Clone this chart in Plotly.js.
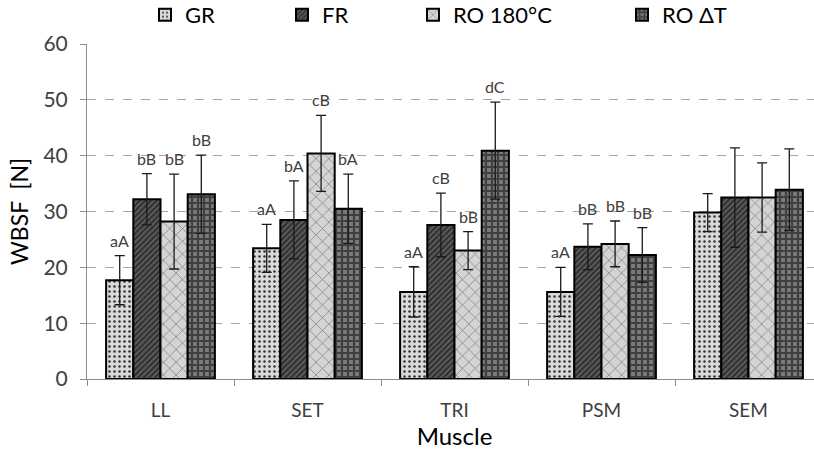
<!DOCTYPE html>
<html>
<head>
<meta charset="utf-8">
<script src="https://cdn.plot.ly/plotly-3.0.1.min.js"></script>
<style>html,body{margin:0;padding:0;overflow:hidden;background:#fff;}</style>
</head>
<body>
<div id="chart" style="width:822px;height:452px;"></div>
<script>
const categories = ["LL", "SET", "TRI", "PSM", "SEM"];
const seriesNames = ["GR", "FR", "RO 180°C", "RO ΔT"];

const grValues = [17.7, 23.4, 15.6, 15.6, 29.8];
const grErrors = [4.4, 4.3, 4.5, 4.4, 3.4];
const grLetters = ["aA", "aA", "aA", "aA", ""];

const frValues = [32.2, 28.5, 27.6, 23.7, 32.5];
const frErrors = [4.6, 7.0, 5.7, 4.1, 8.9];
const frLetters = ["bB", "bA", "cB", "bB", ""];

const ro180Values = [28.2, 40.4, 23.0, 24.2, 32.5];
const ro180Errors = [8.5, 6.8, 3.4, 4.1, 6.2];
const ro180Letters = ["bB", "cB", "bB", "bB", ""];

const roDtValues = [33.1, 30.5, 40.9, 22.2, 33.9];
const roDtErrors = [7.0, 6.2, 8.7, 4.9, 7.3];
const roDtLetters = ["bB", "bA", "dC", "bB", ""];

const yTicks = [0, 10, 20, 30, 40, 50, 60];

const FONT = "Lato, 'Open Sans', sans-serif";
const BARGAP = 0.26;

const patterns = [
  {shape: ".", bgcolor: "#d9d9d9", fgcolor: "#333333", size: 5, solidity: 0.2},
  {shape: "/", bgcolor: "#5a5a5a", fgcolor: "#2a2a2a", size: 4, solidity: 0.45},
  {shape: "x", bgcolor: "#d4d4d4", fgcolor: "#7a7a7a", size: 9, solidity: 0.15},
  {shape: "+", bgcolor: "#7a7a7a", fgcolor: "#404040", size: 6, solidity: 0.6}
];
const allValues = [grValues, frValues, ro180Values, roDtValues];
const allErrors = [grErrors, frErrors, ro180Errors, roDtErrors];
const allLetters = [grLetters, frLetters, ro180Letters, roDtLetters];

const traces = seriesNames.map((name, k) => ({
  type: "bar",
  name: name,
  x: categories,
  y: allValues[k],
  legend: k === 0 ? "legend" : "legend" + (k + 1),
  marker: {
    color: patterns[k].bgcolor,
    pattern: {shape: patterns[k].shape, bgcolor: patterns[k].bgcolor, fgcolor: patterns[k].fgcolor,
              size: patterns[k].size, solidity: patterns[k].solidity, fillmode: "replace"},
    line: {color: "#000000", width: 2}
  },
  error_y: {type: "data", array: allErrors[k], visible: true, color: "#1a1a1a", thickness: 1.3, width: 5}
}));

const annotations = [];
const slot = (1 - BARGAP) / seriesNames.length;
seriesNames.forEach((name, k) => {
  categories.forEach((c, i) => {
    const t = allLetters[k][i];
    if (!t) return;
    annotations.push({
      xref: "x", yref: "y",
      x: i + (k - (seriesNames.length - 1) / 2) * slot,
      y: allValues[k][i] + allErrors[k][i],
      text: t, showarrow: false, yanchor: "bottom", yshift: 4,
      font: {family: FONT, size: 16, color: "#404040"}
    });
  });
});

const legendX = [0.0789, 0.2653, 0.4435, 0.7279];
const legendBase = {orientation: "h", y: 1.087, yanchor: "middle", xanchor: "left",
  font: {family: FONT, size: 22, color: "#000"}, bgcolor: "rgba(0,0,0,0)", itemwidth: 30};

const layout = {
  width: 822, height: 452,
  margin: {l: 87, r: 0, t: 44, b: 73, autoexpand: false},
  paper_bgcolor: "#ffffff", plot_bgcolor: "#ffffff",
  barmode: "group", bargap: BARGAP, bargroupgap: 0,
  font: {family: FONT, color: "#404040"},
  showlegend: true,
  legend: Object.assign({}, legendBase, {x: legendX[0]}),
  legend2: Object.assign({}, legendBase, {x: legendX[1]}),
  legend3: Object.assign({}, legendBase, {x: legendX[2]}),
  legend4: Object.assign({}, legendBase, {x: legendX[3]}),
  xaxis: {
    type: "category",
    showline: true, linecolor: "#8c8c8c", linewidth: 1,
    ticks: "outside", tickson: "boundaries", ticklen: 6, tickcolor: "#8c8c8c",
    ticklabelstandoff: 14,
    tickfont: {family: FONT, size: 19, color: "#404040"},
    title: {text: "Muscle", font: {family: FONT, size: 24, color: "#000"}, standoff: 4},
    showgrid: false, zeroline: false
  },
  yaxis: {
    range: [0, 60], tickvals: yTicks, ticktext: yTicks.map(String),
    showline: true, linecolor: "#8c8c8c", linewidth: 1,
    ticks: "outside", ticklen: 6, tickcolor: "#8c8c8c",
    ticklabelstandoff: 8,
    tickfont: {family: FONT, size: 21, color: "#404040"},
    showgrid: true, gridcolor: "#a6a6a6", griddash: "dash", gridwidth: 1,
    zeroline: false,
    title: {text: "WBSF  [N]", font: {family: FONT, size: 23, color: "#000"}, standoff: 8}
  },
  annotations: annotations
};

Plotly.newPlot("chart", traces, layout, {displayModeBar: false, staticPlot: true});
</script>
</body>
</html>
